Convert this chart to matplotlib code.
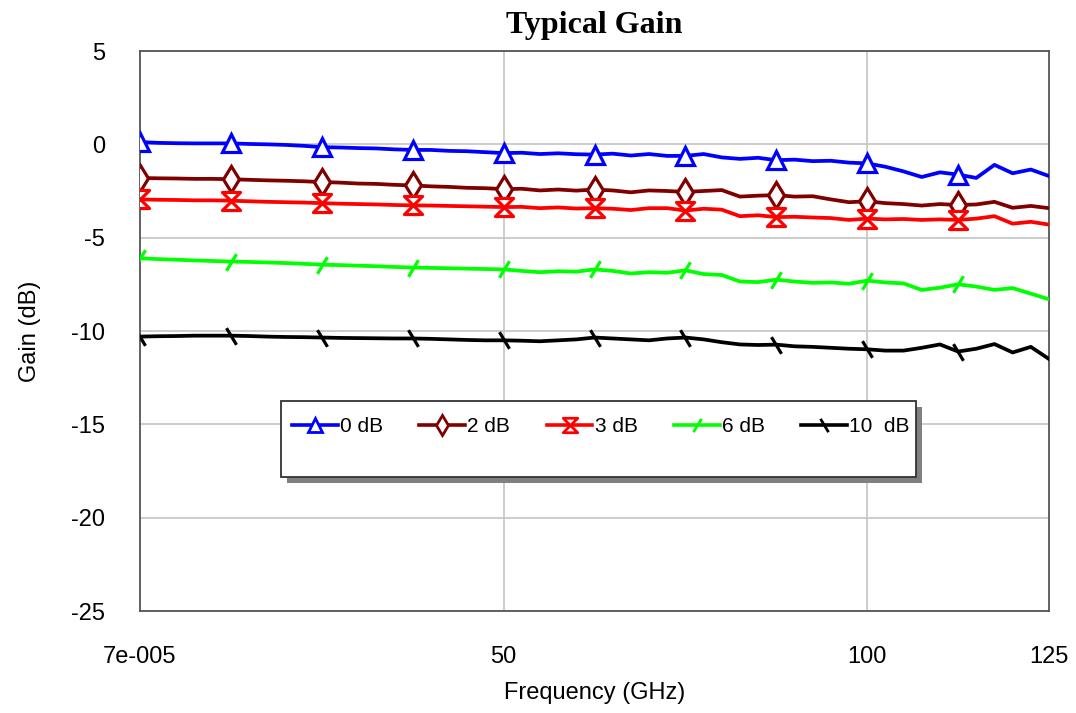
import numpy as np
import matplotlib
matplotlib.use("Agg")
import matplotlib.pyplot as plt
from matplotlib.path import Path
from matplotlib.patches import Rectangle
from matplotlib.lines import Line2D

plt.rcParams['font.family'] = ['Liberation Sans', 'DejaVu Sans']
plt.rcParams['axes.unicode_minus'] = False

# frequency sweep (GHz), 2.5 GHz steps
freq_ghz = [0, 2.5, 5, 7.5, 10, 12.5, 15, 17.5, 20, 22.5,
            25, 27.5, 30, 32.5, 35, 37.5, 40, 42.5, 45, 47.5,
            50, 52.5, 55, 57.5, 60, 62.5, 65, 67.5, 70, 72.5,
            75, 77.5, 80, 82.5, 85, 87.5, 90, 92.5, 95, 97.5,
            100, 102.5, 105, 107.5, 110, 112.5, 115, 117.5, 120, 122.5, 125]

gain_0db = [0.12, 0.08, 0.06, 0.05, 0.05, 0.05, 0.02, 0.0, -0.03, -0.08,
            -0.15, -0.17, -0.2, -0.22, -0.27, -0.3, -0.3, -0.35, -0.37, -0.42,
            -0.47, -0.45, -0.52, -0.48, -0.53, -0.55, -0.5, -0.6, -0.52, -0.62,
            -0.62, -0.52, -0.7, -0.78, -0.72, -0.85, -0.82, -0.9, -0.88, -0.98,
            -1.02, -1.2, -1.45, -1.75, -1.5, -1.62, -1.8, -1.1, -1.55, -1.35, -1.7]

gain_2db = [-1.8, -1.82, -1.83, -1.85, -1.85, -1.87, -1.9, -1.93, -1.95, -1.98,
            -2.02, -2.05, -2.1, -2.12, -2.17, -2.2, -2.25, -2.28, -2.33, -2.35,
            -2.4, -2.38, -2.47, -2.42, -2.48, -2.42, -2.47, -2.57, -2.47, -2.5,
            -2.55, -2.5, -2.45, -2.8, -2.75, -2.72, -2.8, -2.78, -2.95, -3.1,
            -3.05, -3.15, -3.2, -3.28, -3.2, -3.25, -3.22, -3.08, -3.4, -3.3, -3.42]

gain_3db = [-2.95, -2.97, -2.98, -3.0, -3.0, -3.02, -3.05, -3.08, -3.1, -3.12,
            -3.15, -3.18, -3.2, -3.22, -3.25, -3.27, -3.28, -3.3, -3.32, -3.34,
            -3.36, -3.35, -3.42, -3.38, -3.44, -3.42, -3.45, -3.52, -3.42, -3.42,
            -3.55, -3.45, -3.5, -3.85, -3.8, -3.9, -3.88, -3.92, -3.95, -4.05,
            -3.98, -4.02, -4.0, -4.05, -4.02, -4.05, -3.98, -3.85, -4.25, -4.15, -4.3]

gain_6db = [-6.1, -6.15, -6.18, -6.22, -6.25, -6.28, -6.3, -6.33, -6.36, -6.4,
            -6.45, -6.47, -6.5, -6.53, -6.57, -6.6, -6.62, -6.64, -6.66, -6.68,
            -6.7, -6.78, -6.85, -6.8, -6.82, -6.7, -6.78, -6.92, -6.85, -6.88,
            -6.75, -6.95, -7.0, -7.35, -7.38, -7.25, -7.35, -7.42, -7.4, -7.47,
            -7.3, -7.4, -7.45, -7.8, -7.68, -7.5, -7.62, -7.8, -7.7, -8.0, -8.3]

gain_10db = [-10.3, -10.28, -10.27, -10.25, -10.25, -10.25, -10.27, -10.3, -10.32, -10.33,
             -10.35, -10.37, -10.38, -10.39, -10.4, -10.4, -10.42, -10.45, -10.48, -10.5,
             -10.5, -10.52, -10.55, -10.5, -10.45, -10.35, -10.4, -10.45, -10.5, -10.4,
             -10.35, -10.45, -10.6, -10.72, -10.75, -10.73, -10.82, -10.85, -10.9, -10.95,
             -10.98, -11.05, -11.05, -10.9, -10.72, -11.1, -10.95, -10.7, -11.15, -10.85, -11.5]

labels = ['0 dB', '2 dB', '3 dB', '6 dB', '10  dB']
x_ticks = [0, 50, 100, 125]
x_ticklabels = ['7e-005', '50', '100', '125']
y_ticks = [5, 0, -5, -10, -15, -20, -25]

# custom markers
hourglass = Path([(-1, 1), (1, 1), (0, 0), (-1, 1), (-1, -1), (1, -1), (0, 0), (-1, -1)],
                 [Path.MOVETO, Path.LINETO, Path.LINETO, Path.CLOSEPOLY,
                  Path.MOVETO, Path.LINETO, Path.LINETO, Path.CLOSEPOLY])
slash = Path([(-0.6, -1), (0.6, 1)], [Path.MOVETO, Path.LINETO])
backslash = Path([(-0.6, 1), (0.6, -1)], [Path.MOVETO, Path.LINETO])

styles = [
    dict(color='#0000FF', marker='^', ms=13, mfc='white'),
    dict(color='#800000', marker='d', ms=13, mfc='white'),
    dict(color='#FF0000', marker=hourglass, ms=13, mfc='white'),
    dict(color='#00FF00', marker=slash, ms=12, mfc='none'),
    dict(color='#000000', marker=backslash, ms=12, mfc='none'),
]
series = [gain_0db, gain_2db, gain_3db, gain_6db, gain_10db]

fig = plt.figure(figsize=(10.76, 7.13), dpi=100)
ax = fig.add_axes([140 / 1076, 102 / 713, 909 / 1076, 560 / 713])

for vals, st in zip(series, styles):
    ax.plot(freq_ghz, vals, color=st['color'], lw=2.7, marker=st['marker'],
            ms=st['ms'], mfc=st['mfc'], mec=st['color'], mew=2.3,
            markevery=slice(0, 50, 5), zorder=3)

ax.set_xlim(0, 125)
ax.set_ylim(-25, 5)
ax.set_xticks(x_ticks)
ax.set_xticklabels(x_ticklabels)
ax.set_yticks(y_ticks)
ax.tick_params(axis='both', length=0, labelsize=17)
ax.tick_params(axis='y', pad=25)
ax.tick_params(axis='x', pad=25)

for y in y_ticks:
    ax.axhline(y, color='#c8c8c8', lw=1.3, zorder=1)
for x in [50, 100]:
    ax.axvline(x, color='#c8c8c8', lw=1.3, zorder=1)

for sp in ax.spines.values():
    sp.set_color('#555555')
    sp.set_linewidth(1.3)

ax.set_xlabel('Frequency (GHz)', fontsize=17, labelpad=10)
ax.set_ylabel('Gain (dB)', fontsize=17, labelpad=22)
ax.set_title('Typical Gain', fontsize=23, fontweight='bold',
             family=['Liberation Serif', 'DejaVu Serif'], pad=13)

# legend box with drop shadow
bx0, bx1, by0, by1 = 0.155, 0.854, 0.239, 0.375
sx, sy = 6 / 909, 6 / 560
ax.add_patch(Rectangle((bx0 + sx, by0 - sy), bx1 - bx0, by1 - by0, transform=ax.transAxes,
                       facecolor='#808080', edgecolor='none', zorder=5))
ax.add_patch(Rectangle((bx0, by0), bx1 - bx0, by1 - by0, transform=ax.transAxes,
                       facecolor='white', edgecolor='#333333', lw=1.3, zorder=6))

handles = [Line2D([], [], color=st['color'], lw=2.6, marker=st['marker'], ms=st['ms'] * 0.8,
                  mfc=st['mfc'], mec=st['color'], mew=2.0) for st in styles]
leg = ax.legend(handles, labels, loc='upper left', bbox_to_anchor=(0.151, 0.372),
                ncol=5, frameon=False, fontsize=15, handlelength=2.2,
                handletextpad=0.1, columnspacing=1.75, borderaxespad=0.3)
leg.set_zorder(7)

fig.savefig('out.png', dpi=100)
